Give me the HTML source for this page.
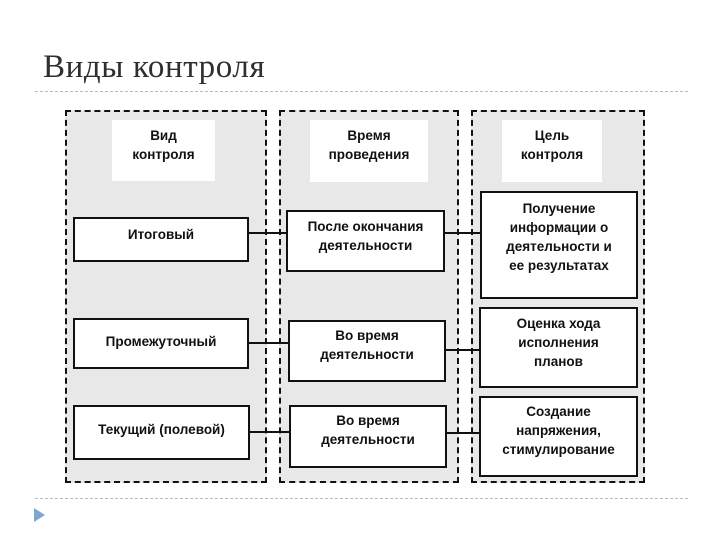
<!DOCTYPE html>
<html><head><meta charset="utf-8"><style>
body{margin:0;width:720px;height:540px;background:#fff;position:relative;overflow:hidden;font-family:"Liberation Sans",Arial,sans-serif;}
.a{position:absolute;box-sizing:border-box;}
.col{border:2px dashed #111;background:#e8e8e8;}
.hd{background:#fff;text-align:center;font-size:13.5px;font-weight:bold;line-height:19px;padding-top:6px;color:#111;}
.bx{background:#fff;border:2.5px solid #111;text-align:center;font-size:13.5px;font-weight:bold;line-height:19px;color:#111;}
.ln{position:absolute;height:2px;background:#111;}
</style></head><body>
<div class="a" style="left:43px;top:49px;font-family:'Liberation Serif',serif;font-size:33px;color:#2f2f2f;letter-spacing:0.6px;">Виды контроля</div>
<div class="a" style="left:35px;top:91px;width:653px;border-top:1px dashed #bbb;"></div>
<div class="a" style="left:35px;top:498px;width:653px;border-top:1px dashed #bbb;"></div>
<div class="a" style="left:34px;top:508px;width:0;height:0;border-left:11px solid #7ea6cf;border-top:7px solid transparent;border-bottom:7px solid transparent;"></div>

<div class="a col" style="left:65px;top:110px;width:202px;height:373px;"></div>
<div class="a col" style="left:279px;top:110px;width:180px;height:373px;"></div>
<div class="a col" style="left:471px;top:110px;width:174px;height:373px;"></div>

<div class="a hd" style="left:112px;top:120px;width:103px;height:61px;">Вид<br>контроля</div>
<div class="a hd" style="left:310px;top:120px;width:118px;height:62px;">Время<br>проведения</div>
<div class="a hd" style="left:502px;top:120px;width:100px;height:62px;">Цель<br>контроля</div>

<div class="ln" style="left:249px;top:232px;width:38px;"></div>
<div class="ln" style="left:444px;top:232px;width:37px;"></div>
<div class="ln" style="left:249px;top:342px;width:40px;"></div>
<div class="ln" style="left:446px;top:349px;width:34px;"></div>
<div class="ln" style="left:249px;top:431px;width:41px;"></div>
<div class="ln" style="left:447px;top:432px;width:33px;"></div>

<div class="a bx" style="left:73px;top:217px;width:176px;height:45px;padding-top:6px;">Итоговый</div>
<div class="a bx" style="left:286px;top:210px;width:159px;height:62px;padding-top:5px;">После окончания<br>деятельности</div>
<div class="a bx" style="left:480px;top:191px;width:158px;height:108px;padding-top:6px;">Получение<br>информации о<br>деятельности и<br>ее результатах</div>

<div class="a bx" style="left:73px;top:318px;width:176px;height:51px;padding-top:12px;">Промежуточный</div>
<div class="a bx" style="left:288px;top:320px;width:158px;height:62px;padding-top:4px;">Во время<br>деятельности</div>
<div class="a bx" style="left:479px;top:307px;width:159px;height:81px;padding-top:5px;">Оценка хода<br>исполнения<br>планов</div>

<div class="a bx" style="left:73px;top:405px;width:177px;height:55px;padding-top:13px;">Текущий (полевой)</div>
<div class="a bx" style="left:289px;top:405px;width:158px;height:63px;padding-top:4px;">Во время<br>деятельности</div>
<div class="a bx" style="left:479px;top:396px;width:159px;height:81px;padding-top:4px;">Создание<br>напряжения,<br>стимулирование</div>
</body></html>
